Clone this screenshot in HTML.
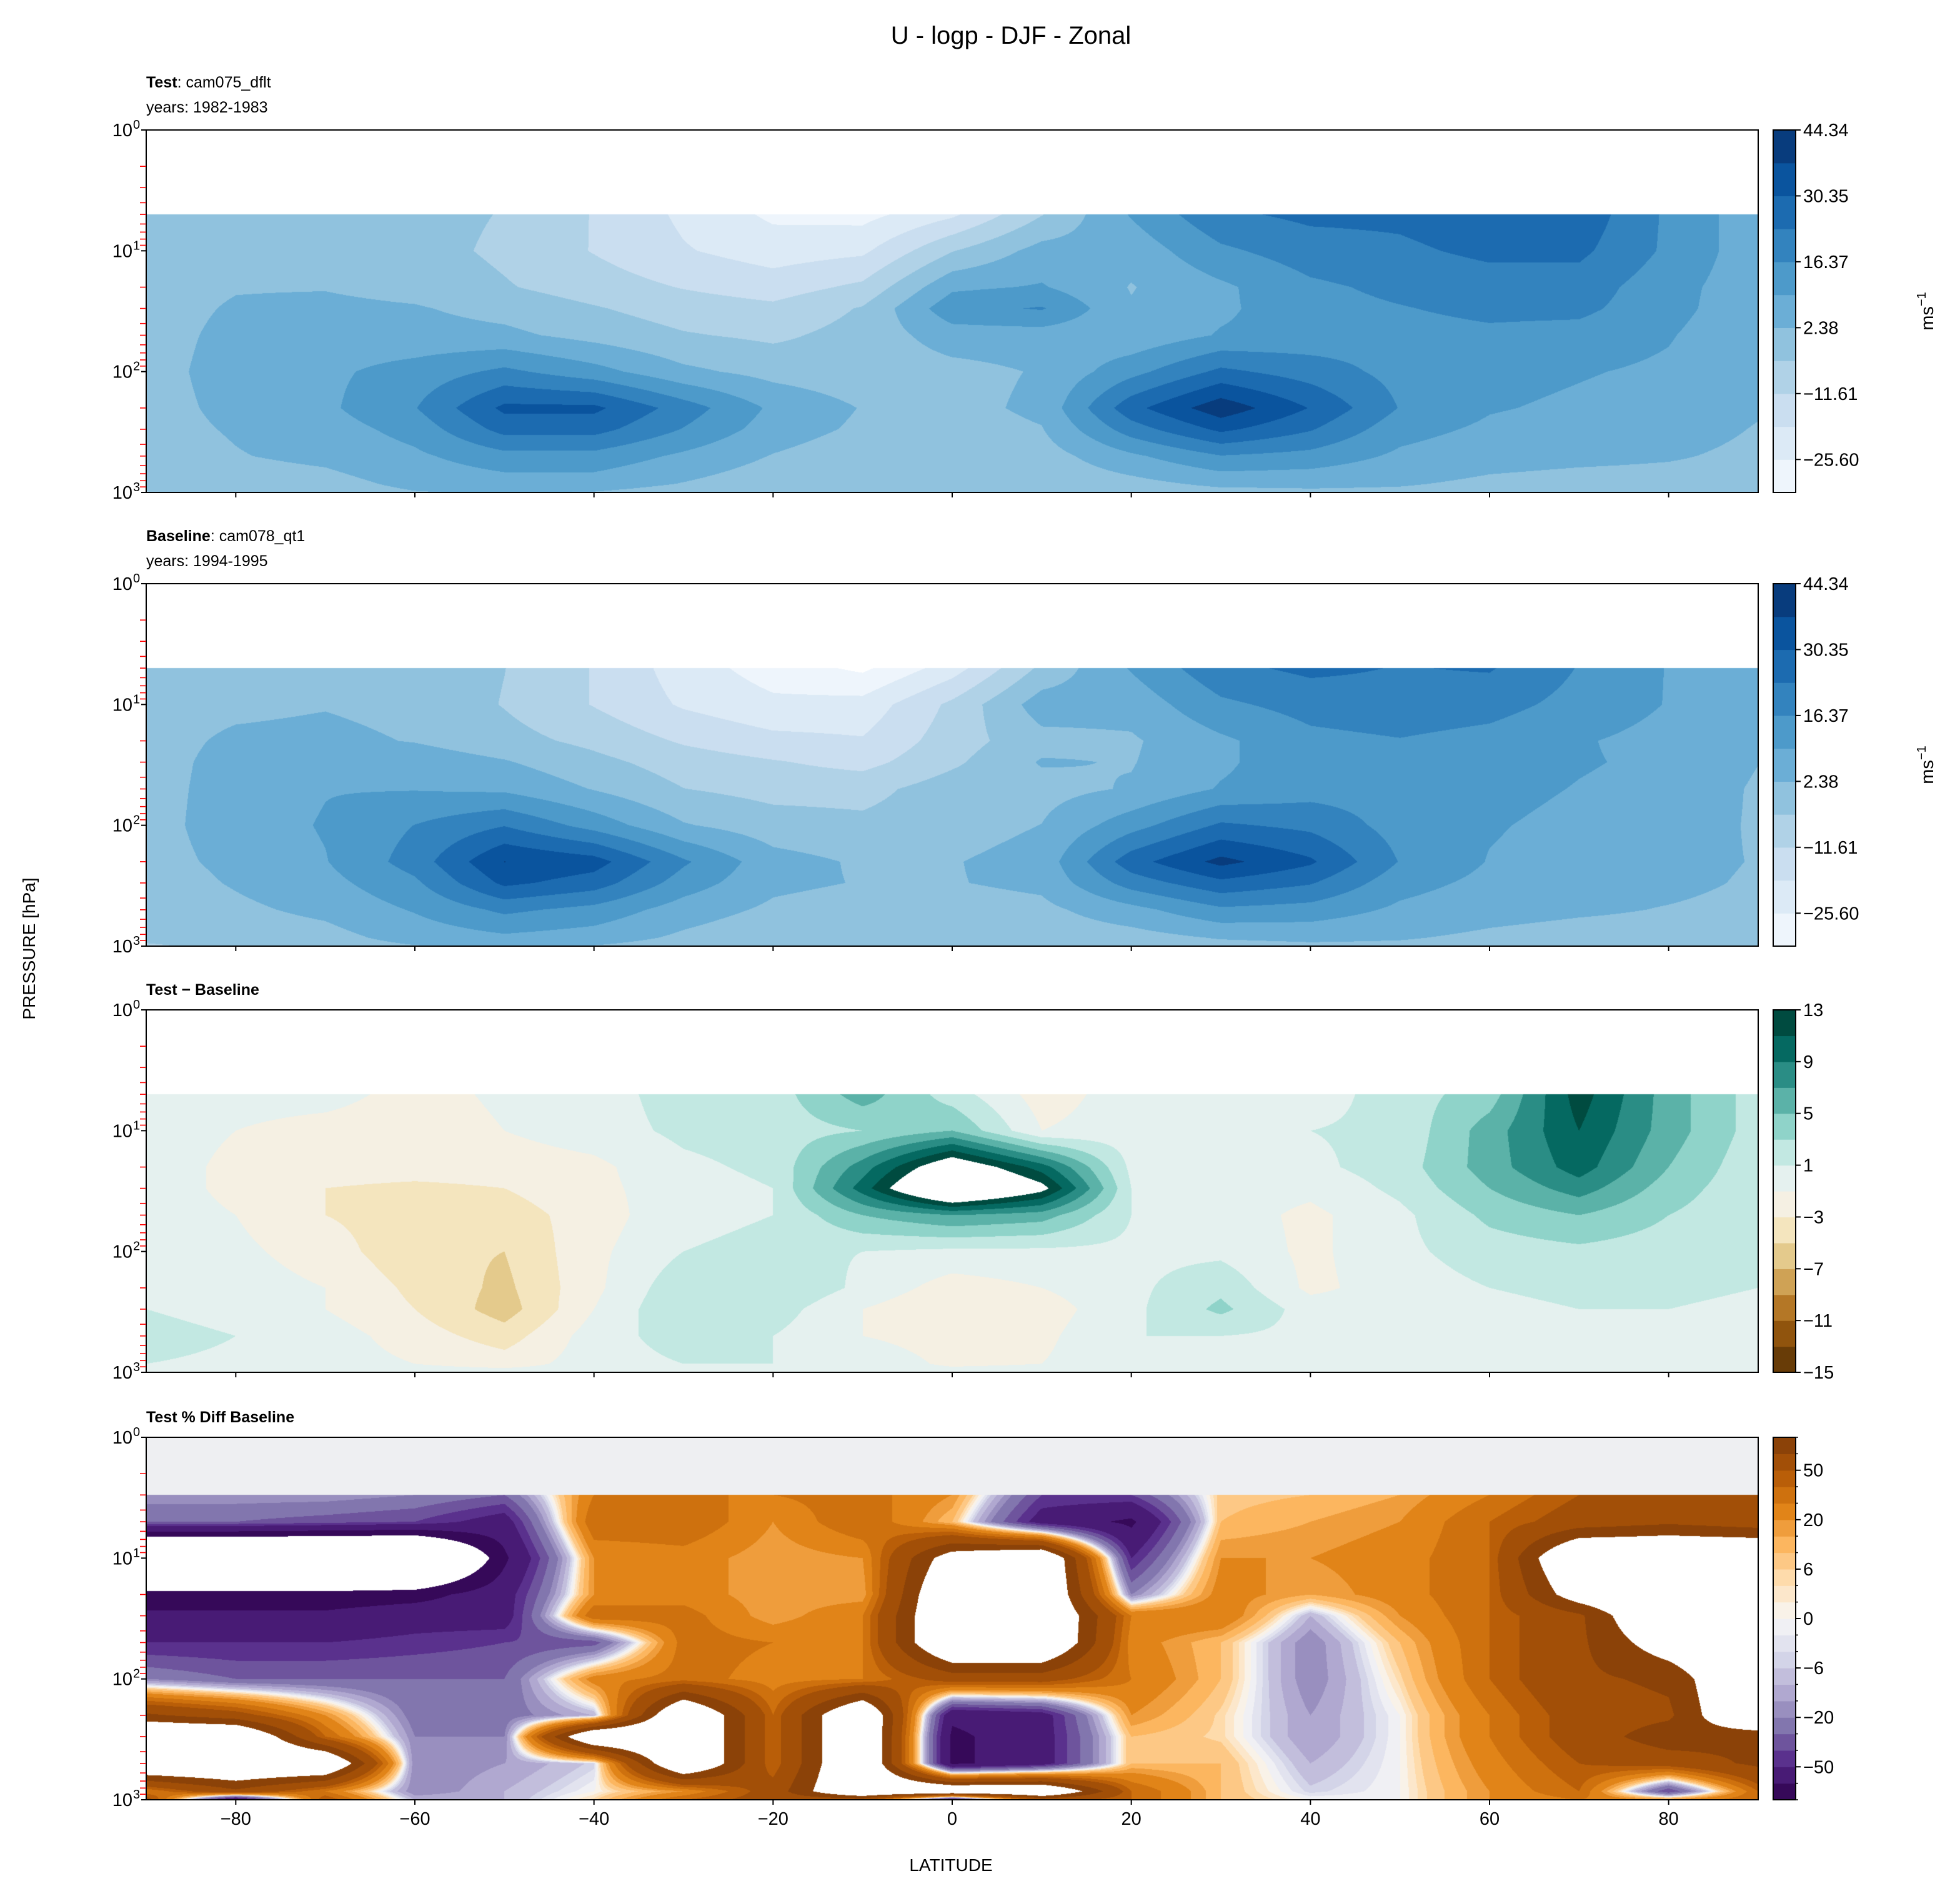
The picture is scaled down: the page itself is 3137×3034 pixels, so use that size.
<!DOCTYPE html>
<html><head><meta charset="utf-8">
<style>
html,body{margin:0;padding:0;background:#fff;}
#wrap{position:relative;width:3137px;height:3034px;overflow:hidden;background:#fff;}
canvas{position:absolute;}
svg{position:absolute;left:0;top:0;}
text{font-family:"Liberation Sans","DejaVu Sans",sans-serif;fill:#000;}
</style></head>
<body>
<div id="wrap">
<canvas id="c0"></canvas>
<canvas id="c1"></canvas>
<canvas id="c2"></canvas>
<canvas id="c3"></canvas>
<svg id="svg" width="3137" height="3034"></svg>
</div>
<script>
// ---------- DATA ----------
const lats=[-90,-80,-70,-60,-50,-40,-30,-20,-10,0,10,20,30,40,50,60,70,80,90];
const levs=[5,10,20,30,50,100,200,300,500,850,1000];
const testU=[
[0,0,0,-2,-5,-12,-20,-27,-28,-20,-5,10,22,25,25,28,28,15,5],
[0,0,0,-2,-6,-12,-18,-22,-20,-5,5,5,15,20,22,25,25,15,5],
[0,2,2,0,-4,-8,-12,-15,-10,8,10,2,8,15,18,20,20,12,5],
[0,3,4,3,0,-4,-8,-10,-4,14,17,3,8,14,16,18,18,12,4],
[0,4,6,5,4,0,-4,-6,-2,6,6,4,10,12,14,15,14,10,3],
[0,5,8,12,18,12,4,0,-2,0,3,14,25,20,14,12,10,8,3],
[0,4,8,16,32,32,20,8,2,0,4,28,42,30,16,10,8,6,3],
[0,3,6,12,26,26,16,6,1,-1,2,20,32,24,12,8,6,5,2],
[-1,2,4,8,14,14,8,2,-2,-3,-1,8,16,14,8,5,4,3,1],
[-2,-1,0,4,6,6,2,-2,-4,-4,-3,0,4,4,3,1,0,0,0],
[-5,-3,-1,2,3,2,-1,-3,-4,-3,-3,-2,0,1,1,0,-1,0,0]
];
const diffU=[
[0,0,0,-2,-0.5,0,2,2,6,2,-2,0,0.5,0,2,4,12,6,2],
[0,-1,-2,-2.5,-1,0,1.5,2,3,5,-1,0,0,1,1.5,6,11,6,2],
[0,-1.5,-2,-2,-2,-1.5,0.5,1.5,8,16,10,0.5,0,0.5,2,6,10,5,1.5],
[0,-1.5,-3,-3.5,-3,-1.5,0,1,10,20,14,1,0,-0.5,1.5,5,8,4,1.5],
[0,-1,-3,-4,-4,-2,0.5,1,5,7,6,1,0,-1.5,0.5,3.5,5,3,1.5],
[0,-0.5,-2,-4.5,-5,-1.5,1,1.5,1,0.5,0.5,0.5,0.5,-1.5,0.5,2,2.5,2,1.5],
[0,0,-1,-3.5,-5.5,-1.5,2.5,3,0.5,-2,-1,0.5,2.5,-1.5,0,1,1.5,1.5,1],
[1,0,-1,-3,-6,-1,3,2,-1,-3,-2,0.5,3.5,0,0,0.5,1,1,0.5],
[2,1,0,-2,-4,0,2,1,-1,-2,-1.5,1,1,0.5,0,0,0.5,1,0.5],
[1,0.5,0,-1,-2,0,1,1,0.5,-1.5,-1,0.5,1,0,0,0,0.5,0.5,0],
[0.5,0,0,0,0,0,0,0,0,0,0,0,0,0,0,0,0,0,0]
];
const levsPct=[3,5,10,20,30,50,100,200,300,500,850,1000];
const pctDiff=[
[-15,-15,-15,-20,-30,30,30,30,35,20,-40,-40,8,10,15,30,50,50,50],
[-30,-30,-35,-40,-60,40,40,20,40,10,-60,-80,10,15,20,40,60,70,60],
[-200,-200,-200,-200,-80,20,25,15,20,120,150,-50,20,20,25,40,150,150,150],
[-90,-90,-90,-85,-60,20,25,15,15,150,150,-20,25,15,25,40,120,150,150],
[-70,-70,-70,-60,-60,40,35,15,30,150,150,30,30,-10,20,40,70,150,150],
[-50,-50,-50,-45,-40,-35,35,30,30,150,150,25,10,-20,10,40,70,120,150],
[-20,-30,-30,-30,-30,25,35,25,30,60,60,30,10,-20,5,40,70,80,150],
[80,60,20,-25,-25,-10,150,40,150,-70,-60,20,5,-15,0,30,60,70,150],
[150,150,40,-20,-20,150,150,40,150,-80,-60,10,5,-15,0,30,60,90,80],
[150,150,150,-20,-15,-5,150,40,150,-80,-60,10,10,-10,0,25,50,60,80],
[30,70,30,-20,-10,0,20,60,150,150,150,40,10,-5,0,20,40,-40,40],
[60,-80,50,-10,-10,5,40,60,60,-70,60,40,10,0,0,20,30,20,40]
];
const blueLevels=[-32.59,-25.60,-18.61,-11.61,-4.62,2.38,9.37,16.37,23.36,30.35,37.35,44.34];
const blueTicks=["-25.60","-11.61","2.38","16.37","30.35","44.34"];
const diffLevels=[-15,-13,-11,-9,-7,-5,-3,-1,1,3,5,7,9,11,13];
const diffTicks=[-15,-11,-7,-3,1,5,9,13];
const pctLevels=[-100,-75,-50,-40,-30,-20,-15,-10,-6,-4,-2,0,2,4,6,10,15,20,30,40,50,75,100];
const pctTicks=[-50,-20,-6,0,6,20,50];
const xTicks=[-80,-60,-40,-20,0,20,40,60,80];
const baseU=testU.map((r,i)=>r.map((v,j)=>v-diffU[i][j]));

// ---------- GEOMETRY ----------
const X0=234,X1=2814,W=X1-X0,H=580;
const tops=[208,934,1616,2300];
const CBX=2838,CBW=36;
function xOf(lat){return X0+(lat+90)/180*W;}
function yOf(p,top){return top+Math.log10(p)/3*H;}

// ---------- COLORMAPS ----------
const BLUES=["#f7fbff","#deebf7","#c6dbef","#9ecae1","#6baed6","#4292c6","#2171b5","#08519c","#08306b"];
const BRBG=["#543005","#8c510a","#bf812d","#dfc27d","#f6e8c3","#f5f5f5","#c7eae5","#80cdc1","#35978f","#01665e","#003c30"];
const PUOR=["#2d004b","#542788","#8073ac","#b2abd2","#d8daeb","#f7f7f7","#fee0b6","#fdb863","#e08214","#b35806","#7f3b08"];
function hex(h){return [parseInt(h.slice(1,3),16),parseInt(h.slice(3,5),16),parseInt(h.slice(5,7),16)];}
function cmap(a,t){const n=a.length-1,f=Math.min(n-1e-9,Math.max(0,t*n)),i=Math.floor(f),u=f-i;
 const c0=hex(a[i]),c1=hex(a[i+1]);return c0.map((v,k)=>Math.round(v+(c1[k]-v)*u));}
function bandColors(a,levels){const n=levels.length-1,out=[];for(let i=0;i<n;i++)out.push(cmap(a,(i+0.5)/n));return out;}
function rgb(c){return "rgb("+c.join(",")+")";}

// ---------- FIELD DRAW ----------
function drawField(id,top,plevs,grid,levels,colors,bg){
 const cv=document.getElementById(id);cv.width=W;cv.height=H;cv.style.left=X0+"px";cv.style.top=top+"px";
 const ctx=cv.getContext("2d");const img=ctx.createImageData(W,H);const d=img.data;
 const lp=plevs.map(p=>Math.log10(p));
 const cols=[];for(let x=0;x<W;x++){const lat=-90+180*(x+0.5)/W;let j=Math.min(lats.length-2,Math.max(0,Math.floor((lat+90)/10)));cols.push([j,(lat-lats[j])/(lats[j+1]-lats[j])]);}
 for(let y=0;y<H;y++){const l=3*(y+0.5)/H;
  if(l<lp[0]){ if(bg){const c=hex(bg);for(let x=0;x<W;x++){const k=(y*W+x)*4;d[k]=c[0];d[k+1]=c[1];d[k+2]=c[2];d[k+3]=255;}} continue;}
  let i=0;while(i<lp.length-2&&l>lp[i+1])i++;const v=Math.min(1,(l-lp[i])/(lp[i+1]-lp[i]));
  const r0=grid[i],r1=grid[i+1];
  for(let x=0;x<W;x++){const [j,u]=cols[x];
   const val=(r0[j]*(1-u)+r0[j+1]*u)*(1-v)+(r1[j]*(1-u)+r1[j+1]*u)*v;
   if(val<levels[0]||val>levels[levels.length-1])continue;
   let b=0;while(b<levels.length-2&&val>levels[b+1])b++;
   const c=colors[b],k=(y*W+x)*4;d[k]=c[0];d[k+1]=c[1];d[k+2]=c[2];d[k+3]=255;}
 }
 ctx.putImageData(img,0,0);
}
const bc=bandColors(BLUES,blueLevels),dc=bandColors(BRBG,diffLevels),pc=bandColors(PUOR,pctLevels);
drawField("c0",tops[0],levs,testU,blueLevels,bc,null);
drawField("c1",tops[1],levs,baseU,blueLevels,bc,null);
drawField("c2",tops[2],levs,diffU,diffLevels,dc,null);
drawField("c3",tops[3],levsPct,pctDiff,pctLevels,pc,"#eeeff2");

// ---------- SVG ----------
const svg=document.getElementById("svg");const NS="http://www.w3.org/2000/svg";
function el(tag,attrs,parent,txt){const e=document.createElementNS(NS,tag);for(const k in attrs)e.setAttribute(k,attrs[k]);if(txt!==undefined)e.textContent=txt;(parent||svg).appendChild(e);return e;}

let t=el("text",{x:1618,y:70,"font-size":40,"text-anchor":"middle"},svg,"U - logp - DJF - Zonal");


t=el("text",{x:1522,y:2994,"font-size":28,"text-anchor":"middle"},svg,"LATITUDE");


t=el("text",{x:56,y:1518,"font-size":28,"text-anchor":"middle",transform:"rotate(-90 56 1518)"},svg,"PRESSURE [hPa]");



const heads=[["Test",": cam075_dflt","years: 1982-1983"],["Baseline",": cam078_qt1","years: 1994-1995"],["Test \u2212 Baseline","",null],["Test % Diff Baseline","",null]];
const names=["test","baseline","difference","percent-diff"];
const cbSets=[[blueLevels,bc,blueTicks.map(s=>[blueLevels.indexOf(parseFloat(s)),s.replace("-","\u2212")])],
 [blueLevels,bc,blueTicks.map(s=>[blueLevels.indexOf(parseFloat(s)),s.replace("-","\u2212")])],
 [diffLevels,dc,diffTicks.map(v=>[diffLevels.indexOf(v),String(v).replace("-","\u2212")])],
 [pctLevels,pc,pctTicks.map(v=>[pctLevels.indexOf(v),String(v).replace("-","\u2212")])]];

for(let p=0;p<4;p++){
 const top=tops[p],bot=top+H;
 const g=el("g",{});
 
 
 const h=heads[p];
 const ty=h[2]?top-68:top-24;
 const tt=el("text",{x:X0,y:ty,"font-size":25},g);
 
 
 el("tspan",{"font-weight":"bold"},tt,h[0]);
 if(h[1])el("tspan",{},tt,h[1]);
 if(h[2]){const ys=el("text",{x:X0,y:top-28,"font-size":25},g,h[2]);
  
  }
 const fr=el("rect",{x:X0,y:top,width:W,height:H,fill:"none",stroke:"#000","stroke-width":2},g);
 
 
 for(let e=0;e<=3;e++){const y=yOf(Math.pow(10,e),top);
  el("line",{x1:X0-8,x2:X0,y1:y,y2:y,stroke:"#000","stroke-width":2},g);
  const lb=el("text",{x:X0-22,y:y+10,"font-size":29,"text-anchor":"end"},g,"10");
  
  
  el("text",{x:X0-21,y:y-2,"font-size":20,"text-anchor":"start"},g,String(e));
  if(e<3)for(let m=2;m<=9;m++){const ym=yOf(m*Math.pow(10,e),top);
   el("line",{x1:X0-10,x2:X0,y1:ym,y2:ym,stroke:"#ff0000","stroke-width":1.6},g);}
 }
 for(const lt of xTicks){const x=xOf(lt);
  el("line",{x1:x,x2:x,y1:bot,y2:bot+8,stroke:"#000","stroke-width":2},g);
  if(p===3){const lb=el("text",{x:x,y:bot+40,"font-size":29,"text-anchor":"middle"},g,String(lt).replace("-","\u2212"));
   
   }
 }
 const [lv,cols,tk]=cbSets[p];const nb=lv.length-1,bh=H/nb;
 const cb=el("g",{},g);
 
 
 for(let i=0;i<nb;i++)el("rect",{x:CBX,y:bot-(i+1)*bh,width:CBW,height:bh+0.6,fill:rgb(cols[i])},cb);
 el("rect",{x:CBX,y:top,width:CBW,height:H,fill:"none",stroke:"#000","stroke-width":2},cb);
 if(p===3)for(let i=0;i<=nb;i++){const y=bot-i*bh;el("line",{x1:CBX+CBW,x2:CBX+CBW+4,y1:y,y2:y,stroke:"#000","stroke-width":1.5},cb);}
 for(const [i,s] of tk){const y=bot-i*bh;
  el("line",{x1:CBX+CBW,x2:CBX+CBW+8,y1:y,y2:y,stroke:"#000","stroke-width":2},cb);
  const lb=el("text",{x:CBX+CBW+12,y:y+10,"font-size":29},cb,s);
  
  }
 if(p<2){const cy=top+H/2;
  const u=el("text",{x:3094,y:cy,"font-size":29,"text-anchor":"middle",transform:"rotate(-90 3094 "+cy+")"},cb);
  
  
  el("tspan",{},u,"ms");el("tspan",{dy:-12,"font-size":20},u,"\u22121");}
}
</script>
</body></html>
